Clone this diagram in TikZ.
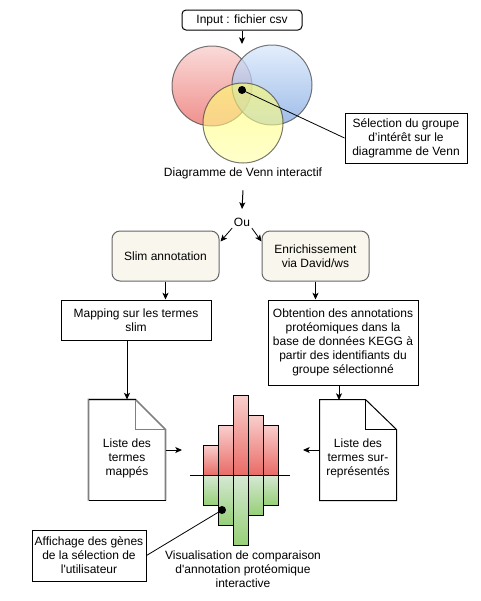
\documentclass[tikz,border=0pt]{standalone}
\usepackage{fontspec}
\setmainfont{Liberation Sans}
\usetikzlibrary{arrows.meta,calc}
\definecolor{redA}{HTML}{F8CECC}
\definecolor{redB}{HTML}{EA6B66}
\definecolor{blueA}{HTML}{DAE8FC}
\definecolor{blueB}{HTML}{7EA6E0}
\definecolor{yelA}{HTML}{FFFF66}
\definecolor{yelB}{HTML}{FFFFA8}
\definecolor{grnA}{HTML}{D5E8D4}
\definecolor{grnB}{HTML}{97D077}
\definecolor{beige}{HTML}{F9F7ED}
\definecolor{edgegray}{HTML}{666666}
\definecolor{docgray}{HTML}{808080}
\begin{document}
\begin{tikzpicture}[x=0.75pt,y=-0.75pt,
  font=\fontsize{9}{10.5}\selectfont,
  line width=0.75pt,
  >={Stealth[length=5pt,width=4.5pt,inset=1.2pt]},
  box/.style={draw, fill=white, align=center, inner sep=1pt},
  procbox/.style={draw=edgegray, fill=beige, rounded corners=6pt, align=center,
    minimum width=80.25pt, minimum height=37.5pt, inner sep=1pt},
  venn/.style={circle, minimum size=60pt, inner sep=0pt, draw=black!75, draw opacity=0.7, fill opacity=0.75},
  dotnode/.style={circle, fill=black, inner sep=0pt, minimum size=6pt},
  docbox/.style={minimum width=57pt, minimum height=75pt, inner sep=0pt},
  txt/.style={align=center, inner sep=1pt},
  conn/.style={->},
  callline/.style={line width=0.6pt}
]
\useasboundingbox (0,0) rectangle (481,601);

% Input
\node[box, rounded corners=3pt, minimum width=90pt, minimum height=15pt] (input) at (242,20) {Input : fichier csv};

% Venn
\node[venn, top color=redA, bottom color=redB] (vr) at (212,86) {};
\node[venn, top color=blueA, bottom color=blueB] (vb) at (272,85) {};
\node[venn, top color=yelA, bottom color=yelB, fill opacity=0.6] (vy) at (243,123) {};
\draw[conn] (input.south) -- (242,44);
\node[dotnode] (vdot) at (242,90) {};
\node[box, minimum width=91.5pt, minimum height=37.5pt] (callout) at (406,138) {S\'election du groupe\\d’int\'er\^et sur le\\diagramme de Venn};
\draw[callline] (vdot.center) -- (callout.west);
\node[txt] (vlabel) at (243,173) {Diagramme de Venn interactif};

% Ou
\node[txt] (ou) at (242,222) {Ou};
\coordinate (ouin) at (242,209);
\draw[conn] (vlabel.south) ++(0,10) -- (ouin);

% process boxes
\node[procbox] (slim) at (165.5,256) {Slim annotation};
\node[procbox] (enrich) at (315.5,256) {Enrichissement\\via David/ws};
\draw[conn, line width=0.6pt] (ou.south west) -- ($(slim.north east)+(1,11)$);
\draw[conn, line width=0.6pt] (ou.south east) -- ($(enrich.north west)+(0,11)$);

\node[box, minimum width=112.5pt, minimum height=30pt] (mapping) at (136,320) {Mapping sur les termes\\slim};
\node[box, minimum width=112.5pt, minimum height=63.75pt] (obt) at (343,342.5) {Obtention des annotations\\prot\'eomiques dans la\\base de donn\'ees KEGG \`a\\partir des identifiants du\\groupe s\'electionn\'e};
\draw[conn] (slim.south) -- (slim.south |- mapping.north);
\draw[conn] (enrich.south) -- (enrich.south |- obt.north);

% documents
\node[docbox] (ldoc) at (127,450) {};
\draw[docgray, line width=1.3pt] (ldoc.south west) -- (ldoc.north west) -- ($(ldoc.north east)+(-30,0)$) -- ($(ldoc.north east)+(0,30)$) -- (ldoc.south east);
\draw[docgray, line width=1pt] ($(ldoc.north east)+(-30,0)$) -- ($(ldoc.north east)+(-30,30)$) -- ($(ldoc.north east)+(0,30)$);
\draw (ldoc.north west) -- ($(ldoc.north east)+(-30,0)$);
\draw (ldoc.south west) -- (ldoc.south east);
\node[txt] (ldoct) at (127,458) {Liste des\\termes\\mapp\'es};

\node[docbox] (rdoc) at (358,450) {};
\draw (rdoc.south west) -- (rdoc.north west) -- ($(rdoc.north east)+(-31,0)$) -- ($(rdoc.north east)+(0,30)$) -- (rdoc.south east) -- cycle;
\draw ($(rdoc.north east)+(-31,0)$) -- ($(rdoc.north east)+(-31,30)$) -- ($(rdoc.north east)+(0,30)$);
\node[txt] (rdoct) at (358,458) {Liste des\\termes sur-\\repr\'esent\'es};

\draw[conn] (mapping.south -| ldoc.north) -- (ldoc.north);
\coordinate (rin) at (339,400);
\draw[conn] (obt.south -| rin) -- (rin);

% chart
\shade[top color=redA, bottom color=redB, draw=black] (203.3,445.7) rectangle (218.3,475);
\shade[top color=redA, bottom color=redB, draw=black] (218.3,425.7) rectangle (233.3,475);
\shade[top color=redA, bottom color=redB, draw=black] (233.3,395.7) rectangle (248.3,475);
\shade[top color=redA, bottom color=redB, draw=black] (248.3,415.7) rectangle (263.3,475);
\shade[top color=redA, bottom color=redB, draw=black] (263.3,425.7) rectangle (278.3,475);
\shade[top color=grnA, bottom color=grnB, draw=black] (203.3,475) rectangle (218.3,505);
\shade[top color=grnA, bottom color=grnB, draw=black] (218.3,475) rectangle (233.3,525);
\shade[top color=grnA, bottom color=grnB, draw=black] (233.3,475) rectangle (248.3,545);
\shade[top color=grnA, bottom color=grnB, draw=black] (248.3,475) rectangle (263.3,515);
\shade[top color=grnA, bottom color=grnB, draw=black] (263.3,475) rectangle (278.3,505);
\draw (190,475) -- (290,475);
\coordinate (chl) at (182,450);
\coordinate (chr) at (303,450);
\draw[conn] (ldoc.east) -- (chl);
\draw[conn] (rdoc.west) -- (chr);

\node[dotnode] (cdot) at (222,510) {};
\node[box, minimum width=85.5pt, minimum height=38.25pt] (aff) at (89,555.5) {Affichage des g\`enes\\de la s\'election de\\l\textquotesingle utilisateur};
\draw[callline] (cdot.center) -- (aff.east);
\node[txt] (vis) at (243,569) {Visualisation de comparaison\\d\textquotesingle annotation prot\'eomique\\interactive};
\end{tikzpicture}
\end{document}
